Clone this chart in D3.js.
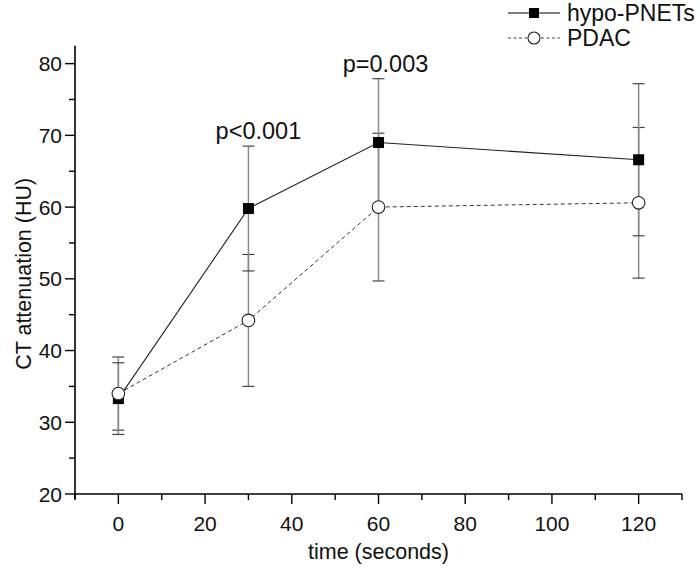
<!DOCTYPE html>
<html><head><meta charset="utf-8">
<script src="https://cdn.jsdelivr.net/npm/d3@7/dist/d3.min.js"></script>
<style>body{margin:0;background:#fff}text{font-family:"Liberation Sans",Arial,sans-serif;fill:#111}</style>
</head><body><svg id="c" width="700" height="571"></svg>
<script>
const times = [0, 30, 60, 120];
const hypoMean = [33.3, 59.8, 69.0, 66.6];
const hypoSD = [5.0, 8.7, 8.9, 10.6];
const pdacMean = [34.0, 44.2, 60.0, 60.6];
const pdacSD = [5.1, 9.2, 10.3, 10.5];
const xTicks = [0, 20, 40, 60, 80, 100, 120];
const yTicks = [20, 30, 40, 50, 60, 70, 80];
const pLabels = [{t: 30, v: "p<0.001"}, {t: 60, v: "p=0.003"}];
const pOffsets = [10, 7];
const seriesNames = ["hypo-PNETs", "PDAC"];

const svg = d3.select("#c");
const x = d3.scaleLinear().domain([-10, 130]).range([75, 682]);
const y = d3.scaleLinear().domain([20, 82.5]).range([494, 45.7]);

// axes
const ax = svg.append("g");
ax.append("line").attr("x1", x(-10)).attr("x2", x(130)).attr("y1", y(20)).attr("y2", y(20)).attr("stroke", "#000").attr("stroke-width", 1.6);
ax.append("line").attr("x1", x(-10)).attr("x2", x(-10)).attr("y1", y(20) + 5).attr("y2", y(82.5)).attr("stroke", "#000").attr("stroke-width", 1.6);
d3.range(-10, 131, 10).forEach(t => {
  const major = t % 20 === 0;
  ax.append("line").attr("x1", x(t)).attr("x2", x(t)).attr("y1", y(20)).attr("y2", y(20) + (major ? 10 : 6)).attr("stroke", "#000").attr("stroke-width", 1.4);
});
d3.range(20, 81, 5).forEach(v => {
  const major = v % 10 === 0;
  ax.append("line").attr("x1", x(-10)).attr("x2", x(-10) - (major ? 10 : 6)).attr("y1", y(v)).attr("y2", y(v)).attr("stroke", "#000").attr("stroke-width", 1.4);
});
xTicks.forEach(t => ax.append("text").attr("x", x(t)).attr("y", y(20) + 37).attr("text-anchor", "middle").attr("font-size", 21).text(t));
yTicks.forEach(v => ax.append("text").attr("x", x(-10) - 13).attr("y", y(v) + 7.5).attr("text-anchor", "end").attr("font-size", 21).text(v));
ax.append("text").attr("x", x(60)).attr("y", 559).attr("text-anchor", "middle").attr("font-size", 21.5).text("time (seconds)");
ax.append("text").attr("transform", `translate(31,${y(50) - 5}) rotate(-90)`).attr("text-anchor", "middle").attr("font-size", 21.5).text("CT attenuation (HU)");

// error bars
function errBars(mean, sd) {
  const g = svg.append("g");
  times.forEach((t, i) => {
    const cx = x(t), hi = y(mean[i] + sd[i]), lo = y(mean[i] - sd[i]);
    g.append("line").attr("x1", cx).attr("x2", cx).attr("y1", hi).attr("y2", lo).attr("stroke", "#8a8a8a").attr("stroke-width", 1.5);
    [hi, lo].forEach(yy => g.append("line").attr("x1", cx - 6).attr("x2", cx + 6).attr("y1", yy).attr("y2", yy).attr("stroke", "#444").attr("stroke-width", 1.2));
  });
}
errBars(pdacMean, pdacSD);
errBars(hypoMean, hypoSD);

const line = d3.line().x((d, i) => x(times[i])).y(d => y(d));
svg.append("path").attr("d", line(pdacMean)).attr("fill", "none").attr("stroke", "#333").attr("stroke-width", 1).attr("stroke-dasharray", "4,3");
svg.append("path").attr("d", line(hypoMean)).attr("fill", "none").attr("stroke", "#222").attr("stroke-width", 1.1);

svg.append("g").selectAll("rect").data(hypoMean).join("rect")
  .attr("x", (d, i) => x(times[i]) - 5.5).attr("y", d => y(d) - 5.5).attr("width", 11).attr("height", 11).attr("fill", "#000");
svg.append("g").selectAll("circle").data(pdacMean).join("circle")
  .attr("cx", (d, i) => x(times[i])).attr("cy", d => y(d)).attr("r", 6.3).attr("fill", "#fff").attr("stroke", "#222").attr("stroke-width", 1.1);

// p labels
pLabels.forEach((p, i) => {
  const idx = times.indexOf(p.t);
  const top = y(Math.max(hypoMean[idx] + hypoSD[idx], pdacMean[idx] + pdacSD[idx]));
  svg.append("text").attr("x", x(p.t) + pOffsets[i]).attr("y", top - 7).attr("text-anchor", "middle").attr("font-size", 23.5).text(p.v);
});

// legend
const lg = svg.append("g");
lg.append("line").attr("x1", 508).attr("x2", 560).attr("y1", 13).attr("y2", 13).attr("stroke", "#000").attr("stroke-width", 1.1);
lg.append("rect").attr("x", 529).attr("y", 8).attr("width", 10).attr("height", 10).attr("fill", "#000");
lg.append("line").attr("x1", 508).attr("x2", 560).attr("y1", 38).attr("y2", 38).attr("stroke", "#444").attr("stroke-width", 1).attr("stroke-dasharray", "3,2.5");
lg.append("circle").attr("cx", 534).attr("cy", 38).attr("r", 6).attr("fill", "#fff").attr("stroke", "#222").attr("stroke-width", 1.1);
lg.append("text").attr("x", 567).attr("y", 21).attr("font-size", 23).text(seriesNames[0]);
lg.append("text").attr("x", 567).attr("y", 46).attr("font-size", 23).text(seriesNames[1]);
</script></body></html>
